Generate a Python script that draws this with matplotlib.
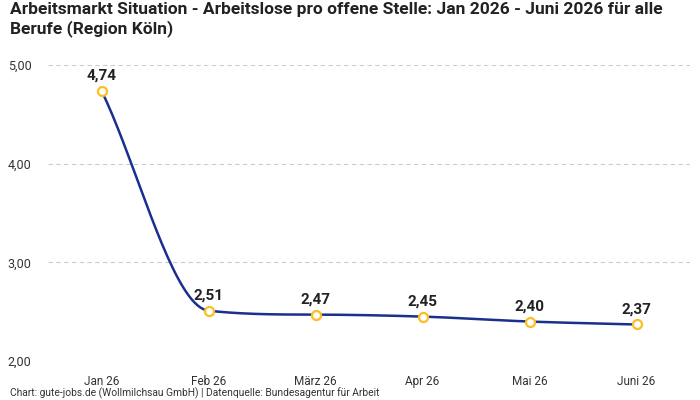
import numpy as np
import matplotlib.pyplot as plt
from matplotlib import font_manager

months = ['Jan 26', 'Feb 26', 'März 26', 'Apr 26', 'Mai 26', 'Juni 26']
values = [4.74, 2.51, 2.47, 2.45, 2.40, 2.37]
y_ticks = [2.0, 3.0, 4.0, 5.0]

names = {f.name for f in font_manager.fontManager.ttflist}
fam = 'Liberation Sans Narrow' if 'Liberation Sans Narrow' in names else 'Roboto'
plt.rcParams['font.family'] = [fam, 'DejaVu Sans']


def monotone(x, y, n=40):
    # Fritsch-Carlson monotone cubic, like the chart's smooth line
    x = np.asarray(x, float)
    y = np.asarray(y, float)
    h = np.diff(x)
    d = np.diff(y) / h
    m = np.zeros_like(y)
    m[0], m[-1] = d[0], d[-1]
    for i in range(1, len(y) - 1):
        m[i] = 0 if d[i - 1] * d[i] <= 0 else (d[i - 1] + d[i]) / 2
    for i in range(len(d)):
        if d[i] == 0:
            m[i] = m[i + 1] = 0
            continue
        a, b = m[i] / d[i], m[i + 1] / d[i]
        s = a * a + b * b
        if s > 9:
            t = 3 / np.sqrt(s)
            m[i], m[i + 1] = t * a * d[i], t * b * d[i]
    xs, ys = [], []
    for i in range(len(d)):
        t = np.linspace(0, 1, n)
        h00 = 2 * t**3 - 3 * t**2 + 1
        h10 = t**3 - 2 * t**2 + t
        h01 = -2 * t**3 + 3 * t**2
        h11 = t**3 - t**2
        xs.extend(x[i] + t * h[i])
        ys.extend(h00 * y[i] + h10 * h[i] * m[i] + h01 * y[i + 1] + h11 * h[i] * m[i + 1])
    return np.array(xs), np.array(ys)


fig = plt.figure(figsize=(7, 4), dpi=100)
ax = fig.add_axes([48 / 700, 39 / 400, 642 / 700, 296 / 400])

x = np.arange(len(months))
sx, sy = monotone(x, values)
ax.plot(sx, sy, color='#1b2f8f', lw=1.8, zorder=2)
ax.plot(x, values, 'o', ms=6.5, mfc='white', mec='#fbbf24', mew=1.6, zorder=3)
for xi, v in zip(x, values):
    ax.annotate(f'{v:.2f}'.replace('.', ','), (xi, v), xytext=(0, 6), textcoords='offset points',
                ha='center', va='bottom', fontsize=11, fontweight='bold', color='#222222')

ax.set_xlim(-0.5, 5.5)
ax.set_ylim(2.0, 5.0)
ax.set_yticks(y_ticks)
ax.set_yticklabels([f'{t:.2f}'.replace('.', ',') for t in y_ticks], fontsize=9, color='#333333')
ax.set_xticks(x)
ax.set_xticklabels(months, fontsize=8.5, color='#333333')
ax.tick_params(length=0, pad=10)
ax.tick_params(axis='y', pad=12)
ax.grid(axis='y', color='#cccccc', ls=(0, (4, 3)), lw=0.8)
ax.set_axisbelow(True)
for s in ax.spines.values():
    s.set_visible(False)

fig.text(10 / 700, 1 - 2 / 400, 'Arbeitsmarkt Situation - Arbeitslose pro offene Stelle: Jan 2026 - Juni 2026 für alle\nBerufe (Region Köln)',
         ha='left', va='top', fontsize=12.5, fontweight='bold', color='#222222', linespacing=1.2)
fig.text(10 / 700, 1 - 393 / 400, 'Chart: gute-jobs.de (Wollmilchsau GmbH) | Datenquelle: Bundesagentur für Arbeit',
         ha='left', va='center', fontsize=7.4, color='#333333')

fig.savefig('out.png', dpi=100)
